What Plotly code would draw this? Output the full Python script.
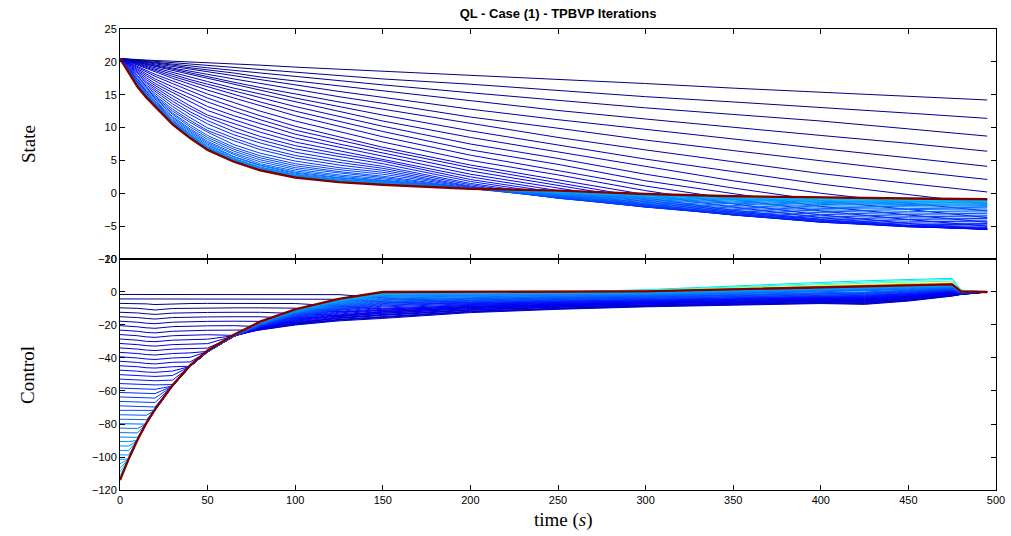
import plotly.graph_objects as go

# time grids (s)
t_state = [0, 5, 10, 15, 20, 30, 40, 50, 65, 80, 100, 125, 150, 200, 250, 300, 350, 400, 450, 495]
t_control = [0, 5, 10, 15, 20, 30, 40, 50, 65, 80, 100, 125, 150, 200, 250, 300, 350, 400, 425, 450, 475, 480, 495]

# iteration number of each stored trajectory, out of n_iter
n_iter = 130
iterations = list(range(1, 41)) + [45, 52, 60, 75, 95, 115, 130]

# state trajectories, one row per stored iteration (values on t_state)
state_iter = [
    [20.5, 20.4, 20.4, 20.3, 20.2, 20.1, 20.0, 19.9, 19.7, 19.5, 19.2, 18.9, 18.6, 17.9, 17.3, 16.7, 16.0, 15.4, 14.8, 14.2],
    [20.5, 20.4, 20.3, 20.2, 20.1, 19.9, 19.7, 19.5, 19.2, 18.9, 18.4, 17.9, 17.4, 16.6, 15.6, 14.7, 13.9, 13.1, 12.2, 11.4],
    [20.5, 20.35, 20.2, 20.05, 19.9, 19.6, 19.4, 19.1, 18.7, 18.3, 17.8, 17.1, 16.5, 15.3, 14.1, 13.0, 12.0, 11.0, 9.8, 8.7],
    [20.5, 20.35, 20.2, 20.0, 19.8, 19.5, 19.1, 18.8, 18.3, 17.7, 17.1, 16.3, 15.6, 14.0, 12.6, 11.3, 10.0, 8.8, 7.6, 6.4],
    [20.5, 20.3, 20.1, 19.9, 19.7, 19.3, 18.9, 18.5, 17.8, 17.2, 16.4, 15.5, 14.6, 12.8, 11.2, 9.7, 8.2, 6.8, 5.4, 4.1],
    [20.5, 20.25, 20.0, 19.75, 19.5, 19.0, 18.6, 18.1, 17.4, 16.7, 15.8, 14.7, 13.7, 11.6, 9.9, 8.1, 6.5, 4.9, 3.4, 2.1],
    [20.5, 20.2, 19.9, 19.65, 19.4, 18.9, 18.3, 17.8, 16.9, 16.1, 15.1, 13.9, 12.8, 10.6, 8.5, 6.6, 4.8, 3.0, 1.5, 0.2],
    [20.5, 20.2, 19.9, 19.55, 19.2, 18.6, 18.0, 17.4, 16.5, 15.6, 14.5, 13.2, 11.9, 9.5, 7.4, 5.2, 3.3, 1.4, -0.2, -1.6],
    [20.5, 20.15, 19.8, 19.4, 19.0, 18.3, 17.7, 17.0, 16.0, 15.1, 13.9, 12.4, 11.0, 8.5, 6.3, 4.0, 1.9, 0.0, -1.5, -2.7],
    [20.5, 20.1, 19.7, 19.25, 18.8, 18.1, 17.3, 16.6, 15.6, 14.5, 13.2, 11.7, 10.2, 7.5, 5.3, 2.9, 0.8, -1.1, -2.5, -3.7],
    [20.5, 20.05, 19.6, 19.1, 18.6, 17.8, 17.0, 16.2, 15.0, 13.9, 12.5, 10.9, 9.4, 6.6, 4.4, 1.9, -0.1, -2.0, -3.3, -4.4],
    [20.5, 20.0, 19.5, 18.95, 18.4, 17.5, 16.6, 15.7, 14.5, 13.3, 11.8, 10.2, 8.6, 5.8, 3.5, 1.1, -0.9, -2.7, -4.0, -5.0],
    [20.5, 19.9, 19.3, 18.7, 18.1, 17.1, 16.1, 15.1, 13.8, 12.5, 11.0, 9.4, 7.8, 5.0, 2.8, 0.4, -1.6, -3.3, -4.6, -5.4],
    [20.5, 19.85, 19.2, 18.5, 17.8, 16.7, 15.6, 14.5, 13.1, 11.8, 10.2, 8.6, 7.0, 4.3, 2.1, -0.2, -2.1, -3.7, -4.9, -5.5],
    [20.5, 19.7, 19.0, 18.2, 17.4, 16.2, 15.0, 13.9, 12.5, 11.2, 9.6, 8.1, 6.6, 3.9, 1.6, -0.7, -2.6, -4.0, -5.0, -5.5],
    [20.5, 19.6, 18.7, 17.9, 17.1, 15.7, 14.5, 13.2, 11.8, 10.6, 9.0, 7.5, 6.1, 3.4, 1.2, -1.0, -2.8, -4.1, -5.05, -5.5],
    [20.5, 19.5, 18.5, 17.6, 16.7, 15.3, 13.9, 12.6, 11.2, 9.9, 8.4, 7.0, 5.7, 2.9, 0.8, -1.3, -3.0, -4.3, -5.1, -5.45],
    [20.5, 19.4, 18.3, 17.3, 16.4, 14.8, 13.3, 11.9, 10.6, 9.3, 7.8, 6.5, 5.2, 2.5, 0.4, -1.6, -3.2, -4.4, -5.1, -5.35],
    [20.5, 19.3, 18.1, 17.0, 16.1, 14.4, 12.9, 11.55, 10.0, 8.65, 7.25, 6.0, 4.9, 2.1, 0.1, -1.8, -3.3, -4.4, -5.0, -5.2],
    [20.5, 19.2, 17.9, 16.8, 15.8, 14.0, 12.4, 11.05, 9.4, 8.15, 6.75, 5.6, 4.5, 1.8, -0.2, -1.95, -3.3, -4.35, -4.9, -5.0],
    [20.5, 19.1, 17.7, 16.5, 15.5, 13.6, 12.0, 10.55, 8.9, 7.65, 6.25, 5.1, 4.1, 1.5, -0.4, -2.05, -3.3, -4.25, -4.7, -4.8],
    [20.5, 19.0, 17.5, 16.3, 15.2, 13.2, 11.5, 9.95, 8.4, 7.05, 5.75, 4.7, 3.8, 1.3, -0.6, -2.1, -3.25, -4.1, -4.5, -4.6],
    [20.5, 18.9, 17.3, 16.1, 14.9, 12.8, 11.1, 9.55, 8.0, 6.65, 5.35, 4.3, 3.5, 1.1, -0.7, -2.1, -3.15, -3.9, -4.25, -4.35],
    [20.5, 18.8, 17.2, 15.9, 14.7, 12.5, 10.8, 9.3, 7.4, 6.1, 4.9, 3.9, 3.2, 1.0, -0.75, -2.05, -3.0, -3.7, -4.0, -4.1],
    [20.5, 18.7, 17.0, 15.7, 14.5, 12.2, 10.4, 8.8, 7.0, 5.7, 4.5, 3.6, 2.9, 0.9, -0.75, -1.95, -2.85, -3.45, -3.75, -3.85],
    [20.5, 18.7, 16.9, 15.5, 14.3, 12.0, 10.1, 8.5, 6.7, 5.4, 4.2, 3.3, 2.6, 0.8, -0.7, -1.85, -2.65, -3.2, -3.5, -3.6],
    [20.5, 18.6, 16.8, 15.4, 14.1, 11.7, 9.8, 8.2, 6.4, 5.1, 3.9, 3.1, 2.4, 0.75, -0.65, -1.7, -2.45, -2.95, -3.25, -3.35],
    [20.5, 18.6, 16.7, 15.2, 14.0, 11.5, 9.6, 7.9, 6.1, 4.8, 3.65, 2.8, 2.2, 0.7, -0.6, -1.55, -2.25, -2.7, -3.0, -3.1],
    [20.5, 18.5, 16.6, 15.1, 13.8, 11.3, 9.4, 7.7, 5.9, 4.5, 3.4, 2.6, 2.0, 0.7, -0.5, -1.4, -2.05, -2.5, -2.75, -2.85],
    [20.5, 18.5, 16.5, 15.0, 13.7, 11.1, 9.2, 7.5, 5.6, 4.3, 3.2, 2.4, 1.9, 0.7, -0.4, -1.25, -1.85, -2.3, -2.5, -2.6],
    [20.5, 18.4, 16.5, 14.9, 13.6, 11.0, 9.0, 7.3, 5.5, 4.2, 3.05, 2.3, 1.8, 0.7, -0.3, -1.1, -1.65, -2.1, -2.3, -2.4],
    [20.5, 18.4, 16.4, 14.85, 13.5, 10.9, 8.9, 7.1, 5.3, 4.0, 2.9, 2.15, 1.7, 0.7, -0.2, -0.95, -1.5, -1.9, -2.1, -2.2],
    [20.5, 18.4, 16.4, 14.8, 13.4, 10.8, 8.8, 7.0, 5.2, 3.9, 2.8, 2.05, 1.6, 0.7, -0.1, -0.8, -1.35, -1.7, -1.9, -2.0],
    [20.5, 18.35, 16.3, 14.75, 13.4, 10.7, 8.7, 6.9, 5.1, 3.8, 2.7, 2.0, 1.5, 0.7, 0.0, -0.7, -1.2, -1.55, -1.75, -1.85],
    [20.5, 18.35, 16.3, 14.7, 13.35, 10.7, 8.6, 6.9, 5.1, 3.75, 2.65, 1.9, 1.5, 0.7, 0.05, -0.6, -1.05, -1.4, -1.6, -1.7],
    [20.5, 18.3, 16.3, 14.7, 13.3, 10.7, 8.6, 6.8, 5.0, 3.7, 2.6, 1.9, 1.45, 0.7, 0.1, -0.5, -0.95, -1.3, -1.45, -1.55],
    [20.5, 18.3, 16.25, 14.7, 13.3, 10.6, 8.55, 6.75, 4.95, 3.65, 2.55, 1.85, 1.4, 0.7, 0.15, -0.4, -0.85, -1.2, -1.35, -1.45],
    [20.5, 18.3, 16.25, 14.65, 13.25, 10.6, 8.5, 6.7, 4.9, 3.6, 2.5, 1.8, 1.4, 0.7, 0.2, -0.35, -0.75, -1.1, -1.25, -1.35],
    [20.5, 18.3, 16.2, 14.6, 13.25, 10.55, 8.45, 6.65, 4.85, 3.55, 2.47, 1.76, 1.35, 0.7, 0.25, -0.3, -0.7, -1.0, -1.15, -1.25],
    [20.5, 18.3, 16.2, 14.6, 13.2, 10.5, 8.45, 6.65, 4.85, 3.55, 2.45, 1.74, 1.33, 0.7, 0.3, -0.25, -0.6, -0.9, -1.05, -1.15],
    [20.5, 18.3, 16.2, 14.6, 13.2, 10.5, 8.4, 6.6, 4.8, 3.5, 2.4, 1.7, 1.3, 0.7, 0.35, -0.2, -0.55, -0.8, -0.95, -1.05],
    [20.5, 18.3, 16.2, 14.6, 13.2, 10.5, 8.4, 6.6, 4.8, 3.5, 2.4, 1.7, 1.3, 0.7, 0.35, -0.15, -0.5, -0.75, -0.9, -1.0],
    [20.5, 18.3, 16.2, 14.6, 13.2, 10.5, 8.4, 6.6, 4.8, 3.5, 2.4, 1.7, 1.3, 0.7, 0.4, -0.1, -0.5, -0.7, -0.85, -0.95],
    [20.5, 18.3, 16.2, 14.6, 13.2, 10.5, 8.4, 6.6, 4.8, 3.5, 2.4, 1.7, 1.3, 0.7, 0.4, -0.1, -0.45, -0.7, -0.85, -0.95],
    [20.5, 18.3, 16.2, 14.6, 13.2, 10.5, 8.4, 6.6, 4.8, 3.5, 2.4, 1.7, 1.3, 0.7, 0.4, -0.1, -0.45, -0.65, -0.8, -0.9],
    [20.5, 18.3, 16.2, 14.6, 13.2, 10.5, 8.4, 6.6, 4.8, 3.5, 2.4, 1.7, 1.3, 0.7, 0.4, -0.1, -0.45, -0.65, -0.8, -0.9],
    [20.5, 18.3, 16.2, 14.6, 13.2, 10.5, 8.4, 6.6, 4.8, 3.5, 2.4, 1.7, 1.3, 0.7, 0.4, -0.1, -0.45, -0.65, -0.8, -0.9],
]

# control trajectories, one row per stored iteration (values on t_control)
control_iter = [
    [-1.5, -1.5, -1.5, -1.5, -1.6, -1.5, -1.5, -1.5, -1.5, -1.5, -1.5, -1.6, -3.5, -6.9, -5.8, -4.8, -3.7, -2.6, -2.5, -1.1, 0.7, -0.7, 0],
    [-4.2, -4.2, -4.2, -4.3, -4.5, -4.3, -4.2, -4.2, -4.2, -4.2, -4.2, -4.4, -6.0, -7.5, -6.3, -5.2, -4.2, -3.1, -3.1, -1.6, 0.3, -0.8, 0],
    [-6.9, -6.9, -7.0, -7.2, -7.6, -7.1, -7.0, -6.9, -6.9, -6.9, -7.0, -8.5, -10.4, -8.1, -6.8, -5.7, -4.6, -3.6, -3.6, -2.1, 0.0, -0.9, 0],
    [-9.6, -9.7, -9.9, -10.4, -10.9, -10.0, -9.8, -9.7, -9.6, -9.6, -9.8, -12.0, -11.2, -8.8, -7.4, -6.2, -5.1, -4.1, -4.2, -2.6, -0.4, -1.0, 0],
    [-12.3, -12.4, -12.7, -13.2, -13.6, -12.8, -12.5, -12.4, -12.3, -12.3, -13.0, -14.2, -12.0, -9.4, -7.9, -6.7, -5.6, -4.6, -4.7, -3.1, -0.7, -1.1, 0],
    [-15.0, -15.1, -15.5, -16.0, -16.4, -15.5, -15.2, -15.1, -15.0, -15.0, -16.0, -14.8, -12.8, -10.0, -8.4, -7.1, -6.1, -5.1, -5.3, -3.6, -1.1, -1.1, 0],
    [-17.7, -17.9, -18.3, -18.9, -19.2, -18.3, -17.9, -17.8, -17.7, -17.8, -18.6, -15.8, -13.9, -10.9, -9.1, -7.8, -6.8, -5.7, -6.1, -4.2, -1.6, -1.3, 0],
    [-20.4, -20.6, -21.1, -21.7, -22.0, -21.0, -20.6, -20.5, -20.4, -21.0, -19.5, -16.8, -15.2, -11.9, -10.0, -8.5, -7.5, -6.5, -6.9, -5.0, -2.1, -1.4, 0],
    [-23.1, -23.3, -23.8, -24.5, -24.8, -23.8, -23.4, -23.2, -23.1, -23.0, -20.0, -17.5, -16.0, -12.5, -10.5, -9.0, -8.0, -7.0, -7.5, -5.5, -2.5, -1.5, 0],
    [-25.8, -26.0, -26.5, -27.2, -27.5, -26.5, -26.1, -25.9, -26.3, -22.9, -19.7, -17.1, -15.5, -12.1, -10.2, -8.7, -7.7, -6.7, -7.2, -5.2, -2.3, -1.4, 0],
    [-28.5, -28.7, -29.2, -29.9, -30.1, -29.2, -28.8, -28.6, -26.5, -22.7, -19.3, -16.6, -14.9, -11.6, -9.8, -8.3, -7.3, -6.3, -6.7, -4.8, -2.0, -1.4, 0],
    [-31.2, -31.4, -31.9, -32.5, -32.8, -31.9, -31.5, -31.3, -26.6, -22.5, -19.0, -16.0, -14.2, -11.1, -9.3, -8.0, -6.9, -5.9, -6.3, -4.4, -1.7, -1.3, 0],
    [-33.9, -34.1, -34.6, -35.2, -35.5, -34.6, -34.2, -34.0, -26.7, -22.3, -18.6, -15.5, -13.6, -10.6, -8.9, -7.6, -6.6, -5.5, -5.8, -4.0, -1.4, -1.2, 0],
    [-36.6, -36.8, -37.3, -37.9, -38.2, -37.3, -36.9, -36.0, -26.8, -22.1, -18.2, -15.0, -13.0, -10.1, -8.5, -7.2, -6.2, -5.2, -5.4, -3.7, -1.2, -1.2, 0],
    [-39.3, -39.5, -40.0, -40.6, -40.9, -40.0, -39.6, -36.1, -26.8, -21.9, -17.8, -14.4, -12.3, -9.6, -8.1, -6.8, -5.8, -4.8, -4.9, -3.3, -0.9, -1.1, 0],
    [-42.0, -42.2, -42.7, -43.3, -43.6, -42.6, -42.4, -36.2, -26.9, -21.7, -17.4, -13.9, -11.7, -9.1, -7.7, -6.5, -5.4, -4.4, -4.5, -2.9, -0.6, -1.0, 0],
    [-44.7, -44.9, -45.3, -45.9, -46.1, -45.3, -45.0, -36.2, -26.9, -21.5, -17.1, -13.4, -11.0, -8.6, -7.2, -6.1, -5.0, -4.0, -4.1, -2.5, -0.3, -1.0, 0],
    [-47.4, -47.6, -48.0, -48.5, -48.7, -47.9, -45.1, -36.3, -26.9, -21.3, -16.7, -12.8, -10.4, -8.1, -6.8, -5.7, -4.6, -3.6, -3.6, -2.1, 0.0, -0.9, 0],
    [-50.1, -50.3, -50.6, -51.0, -51.2, -50.6, -45.1, -36.3, -26.9, -21.1, -16.3, -12.3, -9.8, -7.6, -6.4, -5.3, -4.3, -3.2, -3.2, -1.7, 0.3, -0.8, 0],
    [-52.8, -53.0, -53.3, -53.6, -53.8, -53.4, -45.2, -36.3, -26.9, -20.9, -15.9, -11.8, -9.1, -7.1, -6.0, -5.0, -3.9, -2.8, -2.7, -1.3, 0.6, -0.7, 0],
    [-55.5, -55.7, -55.9, -56.2, -56.3, -56.1, -45.2, -36.3, -26.9, -20.7, -15.5, -11.2, -8.5, -6.6, -5.6, -4.6, -3.5, -2.4, -2.3, -0.9, 0.8, -0.7, 0],
    [-58.2, -58.4, -58.6, -58.8, -59.0, -57.0, -45.2, -36.3, -26.9, -20.5, -15.3, -10.9, -8.0, -6.3, -5.3, -4.3, -3.2, -2.2, -2.0, -0.7, 1.1, -0.6, 0],
    [-60.9, -61.0, -61.2, -61.4, -61.6, -57.0, -45.2, -36.3, -26.8, -20.4, -15.0, -10.5, -7.5, -5.9, -4.9, -4.0, -2.9, -1.9, -1.6, -0.4, 1.3, -0.5, 0],
    [-63.6, -63.7, -63.9, -64.1, -64.3, -57.0, -45.1, -36.2, -26.8, -20.2, -14.7, -10.1, -7.0, -5.5, -4.6, -3.7, -2.6, -1.6, -1.3, -0.1, 1.5, -0.5, 0],
    [-66.3, -66.4, -66.6, -66.8, -67.0, -57.0, -45.1, -36.2, -26.8, -20.1, -14.4, -9.7, -6.6, -5.1, -4.3, -3.5, -2.3, -1.3, -0.9, 0.2, 1.7, -0.4, 0],
    [-69.0, -69.1, -69.3, -69.5, -69.7, -56.9, -45.1, -36.2, -26.7, -19.9, -14.1, -9.3, -6.1, -4.8, -4.0, -3.2, -2.0, -1.0, -0.6, 0.5, 1.9, -0.4, 0],
    [-71.7, -71.8, -71.9, -72.0, -71.8, -56.9, -45.0, -36.1, -26.7, -19.8, -13.8, -8.9, -5.6, -4.4, -3.7, -2.9, -1.8, -0.7, -0.3, 0.8, 2.1, -0.3, 0],
    [-74.4, -74.5, -74.6, -74.7, -71.8, -56.9, -45.0, -36.1, -26.7, -19.6, -13.5, -8.5, -5.1, -4.0, -3.4, -2.6, -1.5, -0.4, 0.0, 1.1, 2.3, -0.3, 0],
    [-77.1, -77.2, -77.3, -77.4, -71.7, -56.8, -45.0, -36.1, -26.6, -19.5, -13.3, -8.1, -4.6, -3.6, -3.0, -2.3, -1.2, -0.1, 0.4, 1.4, 2.5, -0.2, 0],
    [-79.8, -79.9, -80.0, -80.1, -71.7, -56.8, -44.9, -36.0, -26.6, -19.3, -13.0, -7.7, -4.2, -3.3, -2.7, -2.0, -0.9, 0.2, 0.7, 1.7, 2.8, -0.2, 0],
    [-82.5, -82.6, -82.7, -80.1, -71.6, -56.8, -44.9, -36.0, -26.6, -19.2, -12.7, -7.3, -3.7, -2.9, -2.4, -1.8, -0.6, 0.5, 1.0, 2.0, 3.0, -0.1, 0],
    [-85.2, -85.3, -85.4, -80.0, -71.6, -56.7, -44.9, -36.0, -26.5, -19.0, -12.4, -6.9, -3.2, -2.5, -2.1, -1.5, -0.3, 0.8, 1.4, 2.3, 3.2, -0.1, 0],
    [-87.9, -88.0, -88.1, -79.9, -71.5, -56.7, -44.8, -35.9, -26.5, -18.9, -12.1, -6.5, -2.7, -2.1, -1.8, -1.2, 0.0, 1.1, 1.7, 2.6, 3.4, 0.0, 0],
    [-90.6, -90.7, -89.9, -79.9, -71.5, -56.7, -44.8, -35.9, -26.5, -18.8, -11.9, -6.2, -2.4, -1.9, -1.6, -1.0, 0.2, 1.2, 1.9, 2.7, 3.5, 0.0, 0],
    [-93.3, -93.4, -89.9, -79.8, -71.4, -56.6, -44.7, -35.8, -26.4, -18.7, -11.7, -5.9, -2.1, -1.6, -1.4, -0.8, 0.4, 1.4, 2.2, 2.9, 3.7, 0.1, 0],
    [-96.0, -96.1, -89.8, -79.8, -71.4, -56.6, -44.7, -35.8, -26.4, -18.6, -11.5, -5.7, -1.8, -1.4, -1.2, -0.6, 0.5, 1.6, 2.4, 3.1, 3.8, 0.1, 0],
    [-98.7, -98.8, -89.8, -79.7, -71.3, -56.6, -44.7, -35.7, -26.3, -18.5, -11.4, -5.4, -1.4, -1.1, -0.9, -0.4, 0.7, 1.8, 2.6, 3.3, 4.0, 0.1, 0],
    [-101.4, -101.3, -89.7, -79.7, -71.3, -56.5, -44.6, -35.7, -26.3, -18.4, -11.2, -5.1, -1.1, -0.9, -0.7, -0.3, 0.9, 2.0, 2.8, 3.5, 4.1, 0.2, 0],
    [-104.1, -101.3, -89.7, -79.6, -71.2, -56.5, -44.6, -35.6, -26.2, -18.3, -11.0, -4.9, -0.8, -0.6, -0.5, -0.1, 1.1, 2.2, 3.0, 3.7, 4.2, 0.2, 0],
    [-106.8, -101.2, -89.6, -79.6, -71.2, -56.5, -44.6, -35.6, -26.2, -18.2, -10.8, -4.6, -0.5, -0.4, -0.3, 0.1, 1.3, 2.4, 3.3, 3.9, 4.4, 0.2, 0],
    [-109, -101.1, -89.6, -79.6, -71.1, -56.5, -44.5, -35.6, -26.1, -18.1, -10.7, -4.4, -0.3, -0.2, -0.1, 1.4, 3.8, 5.8, 6.8, 7.6, 8.3, 1.2, 0],
    [-111, -101.1, -89.6, -79.5, -71.1, -56.5, -44.5, -35.5, -26.1, -18.1, -10.6, -4.3, -0.2, -0.1, 0.0, 1.1, 3.2, 5.0, 6.0, 6.9, 7.6, 1.0, 0],
    [-112, -101.0, -89.5, -79.5, -71.0, -56.5, -44.5, -35.5, -26.0, -18.0, -10.5, -4.2, -0.1, 0.0, 0.0, 0.9, 2.8, 4.4, 5.3, 6.0, 6.6, 0.8, 0],
    [-113, -101, -89.5, -79.5, -71, -56.5, -44.5, -35.5, -26, -18, -10.5, -4.2, 0, 0, 0, 0.7, 2.3, 3.6, 4.6, 5.2, 5.6, 0.6, 0],
    [-113.5, -101, -89.5, -79.5, -71, -56.5, -44.5, -35.5, -26, -18, -10.5, -4.2, 0, 0, 0, 0.6, 2.0, 3.1, 4.1, 4.7, 5.0, 0.5, 0],
    [-114, -101, -89.5, -79.5, -71, -56.5, -44.5, -35.5, -26, -18, -10.5, -4.2, 0, 0, 0, 0.5, 1.8, 2.9, 3.8, 4.4, 4.8, 0.4, 0],
    [-114, -101, -89.5, -79.5, -71, -56.5, -44.5, -35.5, -26, -18, -10.5, -4.2, 0, 0, 0, 0.4, 1.6, 2.7, 3.6, 4.2, 4.6, 0.3, 0],
]

state_ticks = [-10, -5, 0, 5, 10, 15, 20, 25]
control_ticks = [-120, -100, -80, -60, -40, -20, 0, 20]
time_ticks = [0, 50, 100, 150, 200, 250, 300, 350, 400, 450, 500]


def jet(f):
    """MATLAB-style jet colormap value for f in [0, 1]."""
    def ch(c):
        return min(max(1.5 - abs(4 * f - c), 0.0), 1.0)
    r, g, b = ch(3), ch(2), ch(1)
    return f"rgb({round(255 * r)},{round(255 * g)},{round(255 * b)})"


fig = go.Figure()

for it, xs, us in zip(iterations, state_iter, control_iter):
    color = jet((it - 1) / (n_iter - 1))
    width = 2.4 if it == n_iter else 1.0
    fig.add_trace(go.Scatter(x=t_state, y=xs, mode="lines", xaxis="x2", yaxis="y2",
                             line=dict(color=color, width=width), showlegend=False,
                             hoverinfo="skip"))
    fig.add_trace(go.Scatter(x=t_control, y=us, mode="lines", xaxis="x", yaxis="y",
                             line=dict(color=color, width=width), showlegend=False,
                             hoverinfo="skip"))

axis_common = dict(showline=True, linecolor="black", linewidth=1, mirror="ticks",
                   ticks="inside", ticklen=5, tickcolor="black", showgrid=False,
                   zeroline=False, automargin=False,
                   tickfont=dict(family="Liberation Sans", size=11, color="black"))

split = 0.5011
fig.update_layout(
    width=1011, height=536, autosize=False,
    margin=dict(l=120, r=15, t=29, b=46, pad=0),
    paper_bgcolor="white", plot_bgcolor="white",
    title=dict(text="<b>QL - Case (1) - TPBVP Iterations</b>", x=0.5, xref="paper",
               y=1 - 13 / 536, yref="container", yanchor="middle", xanchor="center",
               font=dict(family="Liberation Sans", size=13, color="black")),
    xaxis=dict(domain=[0, 1], range=[0, 500], tickvals=time_ticks, anchor="y", **axis_common),
    yaxis=dict(domain=[0, split], range=[-120, 20], tickvals=control_ticks, anchor="x", **axis_common),
    xaxis2=dict(domain=[0, 1], range=[0, 500], tickvals=time_ticks, anchor="y2",
                showticklabels=False, **axis_common),
    yaxis2=dict(domain=[split, 1], range=[-10, 25], tickvals=state_ticks, anchor="x2", **axis_common),
    annotations=[
        dict(text="State", x=-0.105, y=0.7505, xref="paper", yref="paper", textangle=-90,
             showarrow=False, xanchor="center", yanchor="middle",
             font=dict(family="Liberation Serif", size=19, color="black")),
        dict(text="Control", x=-0.105, y=0.2495, xref="paper", yref="paper", textangle=-90,
             showarrow=False, xanchor="center", yanchor="middle",
             font=dict(family="Liberation Serif", size=19, color="black")),
        dict(text="time (<i>s</i>)", x=0.506, y=-0.065, xref="paper", yref="paper",
             showarrow=False, xanchor="center", yanchor="middle",
             font=dict(family="Liberation Serif", size=19, color="black")),
    ],
)

fig.write_html("out.html")
